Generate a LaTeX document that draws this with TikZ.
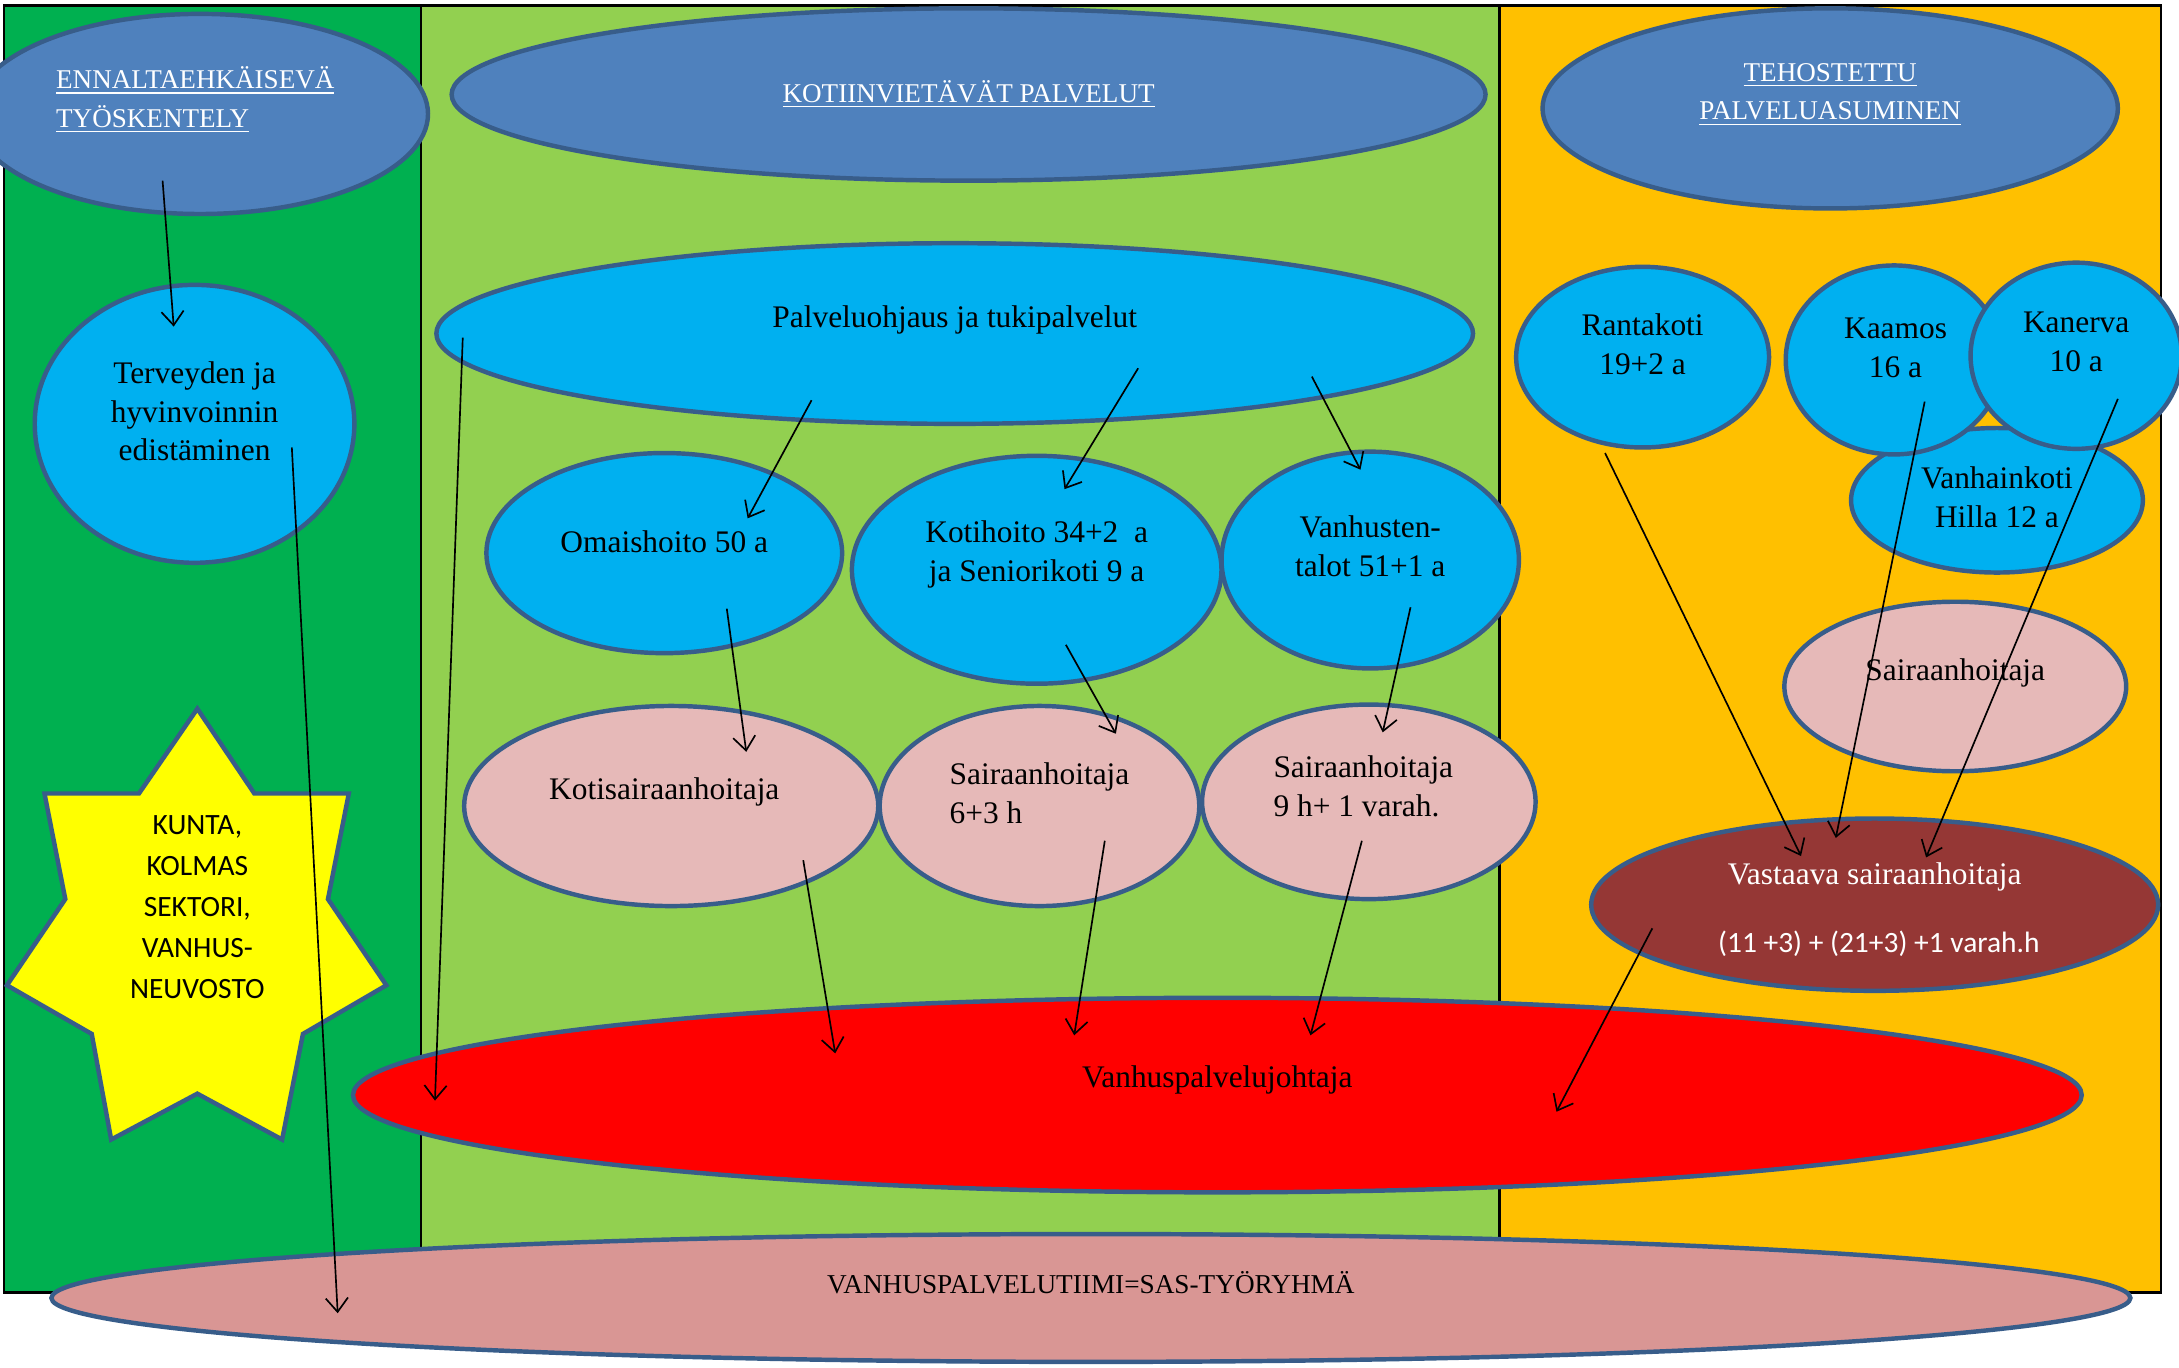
\documentclass[tikz,border=0pt]{standalone}
\usepackage{fontspec}
\setmainfont{Liberation Serif}
\newfontfamily\calib{Carlito}
\usetikzlibrary{shapes.geometric,arrows.meta,calc}
\definecolor{dgreen}{HTML}{00B050}
\definecolor{lgreen}{HTML}{92D050}
\definecolor{orangec}{HTML}{FFC000}
\definecolor{hblue}{HTML}{4F81BD}
\definecolor{bordc}{HTML}{385D8A}
\definecolor{cyanc}{HTML}{00B0F0}
\definecolor{pinkc}{HTML}{E6B9B8}
\definecolor{teamc}{HTML}{D99694}
\definecolor{vastc}{HTML}{953735}
\definecolor{starc}{HTML}{FFFF00}
\begin{document}
\begin{tikzpicture}[x=0.5pt,y=-0.5pt,
  ell/.style={ellipse,draw=bordc,line width=1.6pt,inner sep=0pt},
  arr/.style={-{Straight Barb[length=5pt,width=8pt]},line width=0.6pt},
  txt/.style={font=\fontsize{11.3}{14}\selectfont,align=center,inner sep=0pt},
  capst/.style={font=\fontsize{9.8}{14}\selectfont,align=center,inner sep=0pt},
  head/.style={font=\fontsize{9.75}{14}\selectfont,text=white,align=center,inner sep=0pt},
  sanst/.style={font=\calib\fontsize{10.6}{14.75}\selectfont,align=center,inner sep=0pt}
]
\useasboundingbox (0,0) rectangle (1568,984);
\fill[white] (0,0) rectangle (1568,984);
% columns
\fill[dgreen] (3,4) rectangle (303,930);
\fill[lgreen] (303,4) rectangle (1079,930);
\fill[orangec] (1079,4) rectangle (1555,930);
\draw[line width=0.8pt] (3,4) rectangle (1555,930);
\draw[line width=0.8pt] (303,4) -- (303,930);
\draw[line width=0.8pt] (1079,4) -- (1079,930);
% headings
\node[ell,fill=hblue,minimum width=164pt,minimum height=72pt] (enn) at (144,82) {};
\node[ell,fill=hblue,minimum width=372pt,minimum height=62pt] (kot) at (697,68) {};
\node[ell,fill=hblue,minimum width=207pt,minimum height=72pt] (teh) at (1317,78) {};
\node[head,align=left,anchor=west] (ennT) at (40,72) {\underline{ENNALTAEHKÄISEVÄ}\\\underline{TYÖSKENTELY}};
\node[head] (kotT) at (697,68) {\underline{KOTIINVIETÄVÄT PALVELUT}};
\node[head] (tehT) at (1317,68) {\underline{TEHOSTETTU}\\\underline{PALVELUASUMINEN}};
% middle column
\node[ell,fill=cyanc,minimum width=373pt,minimum height=65pt] (pal) at (687,240) {};
\node[txt] (palT) at (687,230) {Palveluohjaus ja tukipalvelut};
\node[ell,fill=cyanc,minimum width=115pt,minimum height=100pt] (terv) at (140,305) {};
\node[txt] (tervT) at (140,296) {Terveyden ja\\hyvinvoinnin\\edistäminen};
\node[ell,fill=cyanc,minimum width=128pt,minimum height=72pt] (omai) at (478,398) {};
\node[txt] (omaiT) at (478,390) {Omaishoito 50 a};
\node[ell,fill=cyanc,minimum width=133pt,minimum height=82pt] (koti) at (746,410) {};
\node[txt] (kotiT) at (746,399) {Kotihoito 34+2\ \ a\\ja Seniorikoti 9 a};
\node[ell,fill=cyanc,minimum width=107pt,minimum height=78pt] (vanh) at (986,403) {};
\node[txt] (vanhT) at (986,393) {Vanhusten-\\talot 51+1 a};
\node[ell,fill=pinkc,minimum width=149pt,minimum height=72pt] (ksh) at (483,580) {};
\node[txt] (kshT) at (478,570) {Kotisairaanhoitaja};
\node[ell,fill=pinkc,minimum width=115pt,minimum height=72pt] (sh1) at (748,580) {};
\node[txt,align=left,anchor=west] (sh1T) at (683,571) {Sairaanhoitaja\\6+3 h};
\node[ell,fill=pinkc,minimum width=120pt,minimum height=70pt] (sh2) at (985,577) {};
\node[txt,align=left,anchor=west] (sh2T) at (916,566) {Sairaanhoitaja\\9 h+ 1 varah.};
\node[ell,fill=red,minimum width=622pt,minimum height=70pt] (vpj) at (876,788) {};
\node[txt] (vpjT) at (876,777) {Vanhuspalvelujohtaja};
\node[ell,fill=teamc,minimum width=748pt,minimum height=46pt] (team) at (785,934) {};
\node[capst] (teamT) at (785,923) {VANHUSPALVELUTIIMI=SAS-TYÖRYHMÄ};
% right column
\node[ell,fill=cyanc,minimum width=105pt,minimum height=52pt] (hilla) at (1437,360) {};
\node[ell,fill=cyanc,minimum width=91pt,minimum height=65pt] (rant) at (1182,257) {};
\node[ell,fill=cyanc,minimum width=78pt,minimum height=68pt] (kaam) at (1363,259) {};
\node[ell,fill=cyanc,minimum width=76pt,minimum height=67pt] (kane) at (1494,256) {};
\node[txt] (hillaT) at (1437,358) {Vanhainkoti\\Hilla 12 a};
\node[txt] (rantT) at (1182,248) {Rantakoti\\19+2 a};
\node[txt] (kaamT) at (1364,250) {Kaamos\\16 a};
\node[txt] (kaneT) at (1494,246) {Kanerva\\10 a};
\node[ell,fill=pinkc,minimum width=123pt,minimum height=61pt] (sh3) at (1407,494) {};
\node[txt] (sh3T) at (1407,484) {Sairaanhoitaja};
\node[ell,fill=vastc,minimum width=204pt,minimum height=62pt] (vast) at (1349,651) {};
\node[txt,text=white] (vastT) at (1349,631) {Vastaava sairaanhoitaja};
\node[sanst,text=white] (vastN) at (1352,679) {(11 +3) + (21+3) +1 varah.h};
% star
\draw[fill=starc,draw=bordc,line width=1.6pt,line join=miter]
  (142,510) -- (183,571) -- (251,571) -- (236,647) -- (278,709) -- (218,744)
  -- (203,820) -- (142,787) -- (80,820) -- (66,744) -- (5,709) -- (47,647)
  -- (32,571) -- (100,571) -- cycle;
\node[sanst] (starT) at (142,653) {KUNTA,\\KOLMAS\\SEKTORI,\\VANHUS-\\NEUVOSTO};
% arrows
\draw[arr] ($(enn)+(-27,48)$) -- ($(terv)+(-15,-70)$);
\draw[arr] ($(terv)+(70,17)$) -- ($(team)+(-542,11)$);
\draw[arr] ($(pal)+(-354,3)$) -- ($(vpj)+(-563,4)$);
\draw[arr] ($(pal)+(-103,48)$) -- ($(omai)+(60,-25)$);
\draw[arr] ($(pal)+(132,25)$) -- ($(koti)+(20,-58)$);
\draw[arr] ($(pal)+(257,31)$) -- ($(vanh)+(-7,-65)$);
\draw[arr] ($(omai)+(45,40)$) -- ($(ksh)+(54,-39)$);
\draw[arr] ($(koti)+(21,54)$) -- ($(sh1)+(55,-52)$);
\draw[arr] ($(vanh)+(29,34)$) -- ($(sh2)+(10,-50)$);
\draw[arr] ($(ksh)+(95,39)$) -- ($(vpj)+(-275,-30)$);
\draw[arr] ($(sh1)+(47,25)$) -- ($(vpj)+(-103,-43)$);
\draw[arr] ($(sh2)+(-5,28)$) -- ($(vpj)+(67,-43)$);
\draw[arr] ($(rant)+(-27,69)$) -- ($(vast)+(-53,-35)$);
\draw[arr] ($(kaam)+(22,30)$) -- ($(vast)+(-28,-48)$);
\draw[arr] ($(kane)+(30,31)$) -- ($(vast)+(37,-34)$);
\draw[arr] ($(vast)+(-160,17)$) -- ($(vpj)+(244,12)$);
\end{tikzpicture}
\end{document}
